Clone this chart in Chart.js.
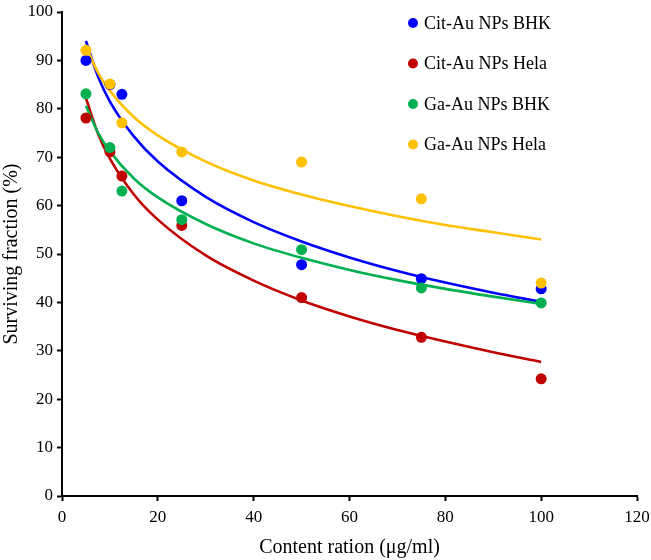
<!DOCTYPE html>
<html>
<head>
<meta charset="utf-8">
<script src="https://cdn.jsdelivr.net/npm/chart.js@4/dist/chart.umd.min.js"></script>
<style>
  html, body { margin: 0; padding: 0; background: #fff; }
  #wrap { width: 651px; height: 560px; position: relative; }
</style>
</head>
<body>
<div id="wrap"><canvas id="survivalChart"></canvas></div>
<script>
// dose points (µg/ml)
var doses = [5, 10, 12.5, 25, 50, 75, 100];

var citBHK  = [90, 85, 83, 61, 47.8, 44.9, 42.8];
var citHela = [78.1, 71.1, 66.1, 55.9, 41, 32.8, 24.2];
var gaBHK   = [83.1, 72, 63, 57.1, 50.9, 43, 39.9];
var gaHela  = [92.1, 85.1, 77.1, 71.1, 69, 61.4, 44];

// trend curves
var trendX       = [5, 7.5, 10, 15, 20, 30, 40, 50, 60, 70, 80, 90, 100];
var citBHKTrend  = [94.0, 86.7, 81.5, 74.3, 69.1, 61.8, 56.6, 52.6, 49.3, 46.5, 44.1, 42.0, 40.1];
var citHelaTrend = [82.2, 74.9, 69.7, 62.3, 57.1, 49.7, 44.5, 40.4, 37.1, 34.3, 31.9, 29.7, 27.7];
var gaBHKTrend   = [80.6, 75.1, 71.2, 65.6, 61.7, 56.2, 52.2, 49.2, 46.7, 44.6, 42.8, 41.2, 39.7];
var gaHelaTrend  = [92.9, 87.5, 83.7, 78.3, 74.5, 69.1, 65.2, 62.3, 59.9, 57.8, 56.0, 54.5, 53.0];

var xTicks = [0, 20, 40, 60, 80, 100, 120];

var seriesNames  = ['Cit-Au NPs BHK', 'Cit-Au NPs Hela', 'Ga-Au NPs BHK', 'Ga-Au NPs Hela'];
var seriesColors = ['#0000ff', '#c00000', '#00b050', '#ffc000'];

function pairs(xs, ys) {
    return xs.map(function (x, i) { return { x: x, y: ys[i] }; });
}

var pointSets = [citBHK, citHela, gaBHK, gaHela];
var trendSets = [citBHKTrend, citHelaTrend, gaBHKTrend, gaHelaTrend];

var datasets = [];
pointSets.forEach(function (vals, i) {
    datasets.push({
        label: seriesNames[i],
        data: pairs(doses, vals),
        backgroundColor: seriesColors[i],
        borderWidth: 0,
        pointRadius: 5.5,
        showLine: false,
        order: 4 - i
    });
});
trendSets.forEach(function (vals, i) {
    datasets.push({
        label: seriesNames[i] + ' trend',
        data: pairs(trendX, vals),
        borderColor: seriesColors[i],
        borderWidth: 2.6,
        pointRadius: 0,
        showLine: true,
        fill: false,
        cubicInterpolationMode: 'monotone',
        order: 14 - i
    });
});

var serif = "'Liberation Serif', 'Times New Roman', serif";

// legend drawn inside the plot, top right
var insideLegend = {
    id: 'insideLegend',
    afterDraw: function (chart) {
        var c = chart.ctx;
        c.save();
        c.font = '18px ' + serif;
        c.textBaseline = 'middle';
        c.textAlign = 'left';
        seriesNames.forEach(function (name, i) {
            var y = 23 + i * 40.5;
            c.fillStyle = seriesColors[i];
            c.beginPath();
            c.arc(413, y, 5, 0, Math.PI * 2);
            c.fill();
            c.fillStyle = '#000';
            c.fillText(name, 424, y + 1);
        });
        c.restore();
    }
};

new Chart(document.getElementById('survivalChart'), {
    type: 'scatter',
    data: { datasets: datasets },
    plugins: [insideLegend],
    options: {
        responsive: true,
        maintainAspectRatio: false,
        animation: false,
        layout: { padding: { top: 12, right: 14, bottom: 0, left: 0 } },
        plugins: {
            legend: { display: false },
            tooltip: { enabled: false }
        },
        scales: {
            x: {
                type: 'linear',
                min: 0,
                max: 120,
                afterBuildTicks: function (s) {
                    s.ticks = xTicks.map(function (v) { return { value: v }; });
                },
                afterFit: function (s) {
                    s.height = 64;
                    s.paddingLeft = 0;
                    s.paddingRight = 0;
                },
                grid: { drawOnChartArea: false, color: '#000', tickLength: 5, tickWidth: 2 },
                border: { color: '#000', width: 2 },
                ticks: { color: '#000', font: { family: serif, size: 17 }, padding: 6, maxRotation: 0 },
                title: {
                    display: true,
                    text: 'Content ration (μg/ml)',
                    color: '#000',
                    font: { family: serif, size: 20 },
                    padding: { top: 0, bottom: 0 }
                }
            },
            y: {
                min: 0,
                max: 100,
                ticks: { stepSize: 10, color: '#000', font: { family: serif, size: 17 }, padding: 4 },
                afterFit: function (s) {
                    s.width = 62;
                    s.paddingTop = 0;
                    s.paddingBottom = 0;
                },
                grid: { drawOnChartArea: false, color: '#000', tickLength: 5, tickWidth: 2 },
                border: { color: '#000', width: 2 },
                title: {
                    display: true,
                    text: 'Surviving fraction (%)',
                    color: '#000',
                    font: { family: serif, size: 20 },
                    padding: { top: 0, bottom: 0 }
                }
            }
        }
    }
});
</script>
</body>
</html>
